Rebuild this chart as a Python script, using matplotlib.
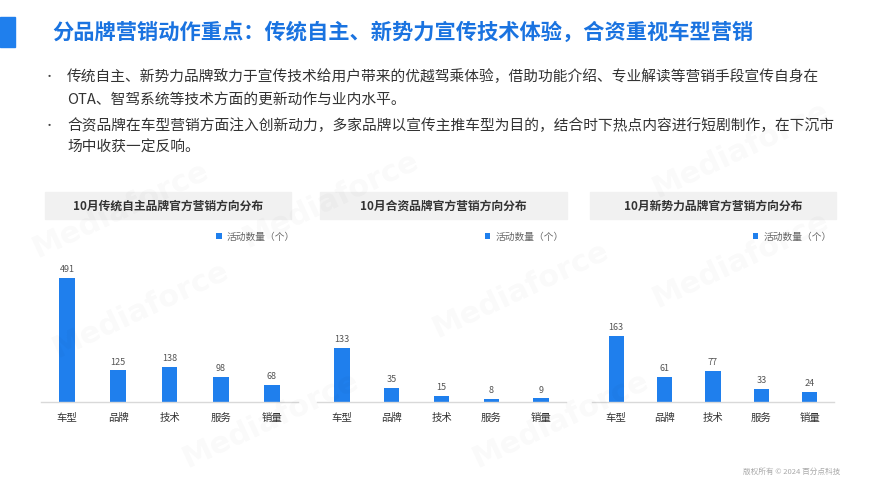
import matplotlib.pyplot as plt
from matplotlib.patches import Rectangle

plt.rcParams['font.family'] = ['Noto Sans CJK SC', 'DejaVu Sans']

# data
categories = ['车型', '品牌', '技术', '服务', '销量']
domestic = [491, 125, 138, 98, 68]
joint = [133, 35, 15, 8, 9]
new_forces = [163, 61, 77, 33, 24]
panel_titles = ['10月传统自主品牌官方营销方向分布',
                '10月合资品牌官方营销方向分布',
                '10月新势力品牌官方营销方向分布']
legend_label = '活动数量（个）'
title = '分品牌营销动作重点：传统自主、新势力宣传技术体验，合资重视车型营销'
bullets = [
    ['传统自主、新势力品牌致力于宣传技术给用户带来的优越驾乘体验，借助功能介绍、专业解读等营销手段宣传自身在',
     'OTA、智驾系统等技术方面的更新动作与业内水平。'],
    ['合资品牌在车型营销方面注入创新动力，多家品牌以宣传主推车型为目的，结合时下热点内容进行短剧制作，在下沉市',
     '场中收获一定反响。'],
]
footer = '版权所有 © 2024 百分点科技'

W, H = 889, 500
BLUE = '#1f7fed'
fig = plt.figure(figsize=(W / 100, H / 100), dpi=100)


def fx(px):
    return px / W


def fy(py):
    return 1 - py / H


# faint watermarks
for (x, y) in [(330, 200), (520, 290), (740, 260), (140, 310), (270, 420), (560, 420), (740, 150), (120, 210)]:
    fig.text(fx(x), fy(y), 'Mediaforce', fontsize=22, fontweight='bold', color='#000000',
             alpha=0.022, rotation=25, ha='center', va='center', family='DejaVu Sans')

# header
fig.patches.append(Rectangle((0, fy(47)), fx(15), fy(17) - fy(47), transform=fig.transFigure,
                             color=BLUE, zorder=1))
fig.text(fx(52), fy(32), title, fontsize=15.3, fontweight='bold', color='#1a73e0', va='center')

# bullet text
line_y = [[77, 100], [126, 148]]
for lines, ys in zip(bullets, line_y):
    fig.text(fx(44), fy(ys[0]), '•', fontsize=8, color='#444444', va='center')
    for ln, y in zip(lines, ys):
        fig.text(fx(67), fy(y), ln, fontsize=10.6, color='#333333', va='center')

# panels
panels = [
    (domestic, 41.4, 297.6, 602, (45, 291)),
    (joint, 317, 566, 374, (320, 567)),
    (new_forces, 592, 834, 375, (590, 836)),
]
ax_top, ax_bot = 250, 402
for (vals, left, right, ymax, box), ptitle in zip(panels, panel_titles):
    # gray title box
    fig.patches.append(Rectangle((fx(box[0]), fy(219)), fx(box[1] - box[0]), fy(192) - fy(219),
                                 transform=fig.transFigure, color='#f1f1f1', zorder=0))
    fig.text(fx((box[0] + box[1]) / 2), fy(206), ptitle, fontsize=8.5, fontweight='bold',
             color='#333333', ha='center', va='center')

    ax = fig.add_axes([fx(left), fy(ax_bot), fx(right - left), (ax_bot - ax_top) / H])
    ax.patch.set_alpha(0)
    x = range(len(categories))
    bars = ax.bar(x, vals, width=0.31, color=BLUE, label=legend_label)
    for b, v in zip(bars, vals):
        ax.text(b.get_x() + b.get_width() / 2, v + ymax * 0.025, str(v), ha='center', va='bottom',
                fontsize=6.5, color='#555555')
    ax.set_xlim(-0.5, len(categories) - 0.5)
    ax.set_ylim(0, ymax)
    ax.set_xticks(list(x))
    ax.set_xticklabels(categories, fontsize=7.5, color='#333333')
    ax.tick_params(axis='x', length=0, pad=8)
    ax.set_yticks([])
    for s in ['top', 'left', 'right']:
        ax.spines[s].set_visible(False)
    ax.spines['bottom'].set_color('#d9d9d9')
    ax.spines['bottom'].set_linewidth(1)
    ax.legend(loc='upper right', bbox_to_anchor=(0.99, 1.12), frameon=False, fontsize=7,
              handlelength=0.6, handleheight=0.6, handletextpad=0.5, labelcolor='#666666',
              borderpad=0, borderaxespad=0)

fig.text(fx(840), fy(472), footer, fontsize=5.5, color='#aaaaaa', ha='right', va='center')

fig.savefig('out.png', dpi=100)
